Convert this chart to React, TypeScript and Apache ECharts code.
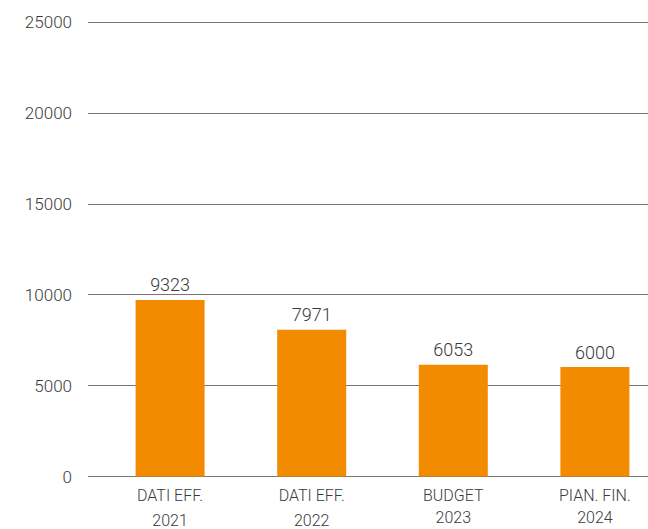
import React, { useEffect, useRef } from "react";
import * as echarts from "echarts";

const categories = ["DATI EFF.\n2021", "DATI EFF.\n2022", "BUDGET\n2023", "PIAN. FIN.\n2024"];
const barHeights = [9715, 8066, 6141, 6020];
const valueLabels = ["9323", "7971", "6053", "6000"];
const yTicks = [0, 5000, 10000, 15000, 20000, 25000];

const FONT = "Roboto";

export default function App() {
  const ref = useRef<HTMLDivElement>(null);
  useEffect(() => {
    document.body.style.margin = "0";
    const chart = echarts.init(ref.current!, null, { renderer: "svg" });
    const yMax = yTicks[yTicks.length - 1];
    const step = yTicks[1] - yTicks[0];
    const textStyle = { fontFamily: FONT, fontWeight: 300, fontSize: 16, color: "#3a3a3a" };
    chart.setOption({
      animation: false,
      backgroundColor: "#ffffff",
      grid: [
        { left: 88, right: 0, top: 22, bottom: 52.5, containLabel: false, outerBoundsMode: "none" },
        { left: 99.3, width: 566.4, top: 22, bottom: 52.5, containLabel: false, outerBoundsMode: "none" },
      ],
      xAxis: [
        { type: "value", gridIndex: 0, show: false, min: 0, max: 1 },
        {
          type: "category",
          gridIndex: 1,
          data: categories,
          axisLine: { show: false },
          axisTick: { show: false },
          axisLabel: {
            interval: 0,
            margin: 8,
            formatter: (v: string, i: number) => {
              const [a, b] = v.split("\n");
              return `{h|${a}}\n{${i < 2 ? "y1" : "y2"}|${b}}`;
            },
            rich: {
              h: { ...textStyle, lineHeight: 22 },
              y1: { ...textStyle, lineHeight: 27 },
              y2: { ...textStyle, lineHeight: 22 },
            },
          },
        },
      ],
      yAxis: [
        {
          type: "value",
          gridIndex: 0,
          min: 0,
          max: yMax,
          interval: step,
          axisLine: { show: false },
          axisTick: { show: false },
          splitLine: { lineStyle: { color: "#777777", width: 1 } },
          axisLabel: {
            margin: 16,
            fontFamily: FONT,
            fontWeight: 300,
            fontSize: 17,
            color: "#3a3a3a",
            formatter: (v: number) => String(v),
          },
        },
        {
          type: "value",
          gridIndex: 1,
          min: 0,
          max: yMax,
          interval: step,
          show: false,
          splitLine: { show: false },
        },
      ],
      series: [
        {
          type: "bar",
          xAxisIndex: 1,
          yAxisIndex: 1,
          data: barHeights,
          barWidth: 69,
          itemStyle: { color: "#f38b00" },
          label: {
            show: true,
            position: "top",
            distance: 6,
            fontFamily: FONT,
            fontWeight: 300,
            fontSize: 18,
            color: "#3a3a3a",
            formatter: (p: any) => valueLabels[p.dataIndex],
          },
        },
      ],
    });
    return () => chart.dispose();
  }, []);
  return <div ref={ref} style={{ width: 648, height: 529 }} />;
}
